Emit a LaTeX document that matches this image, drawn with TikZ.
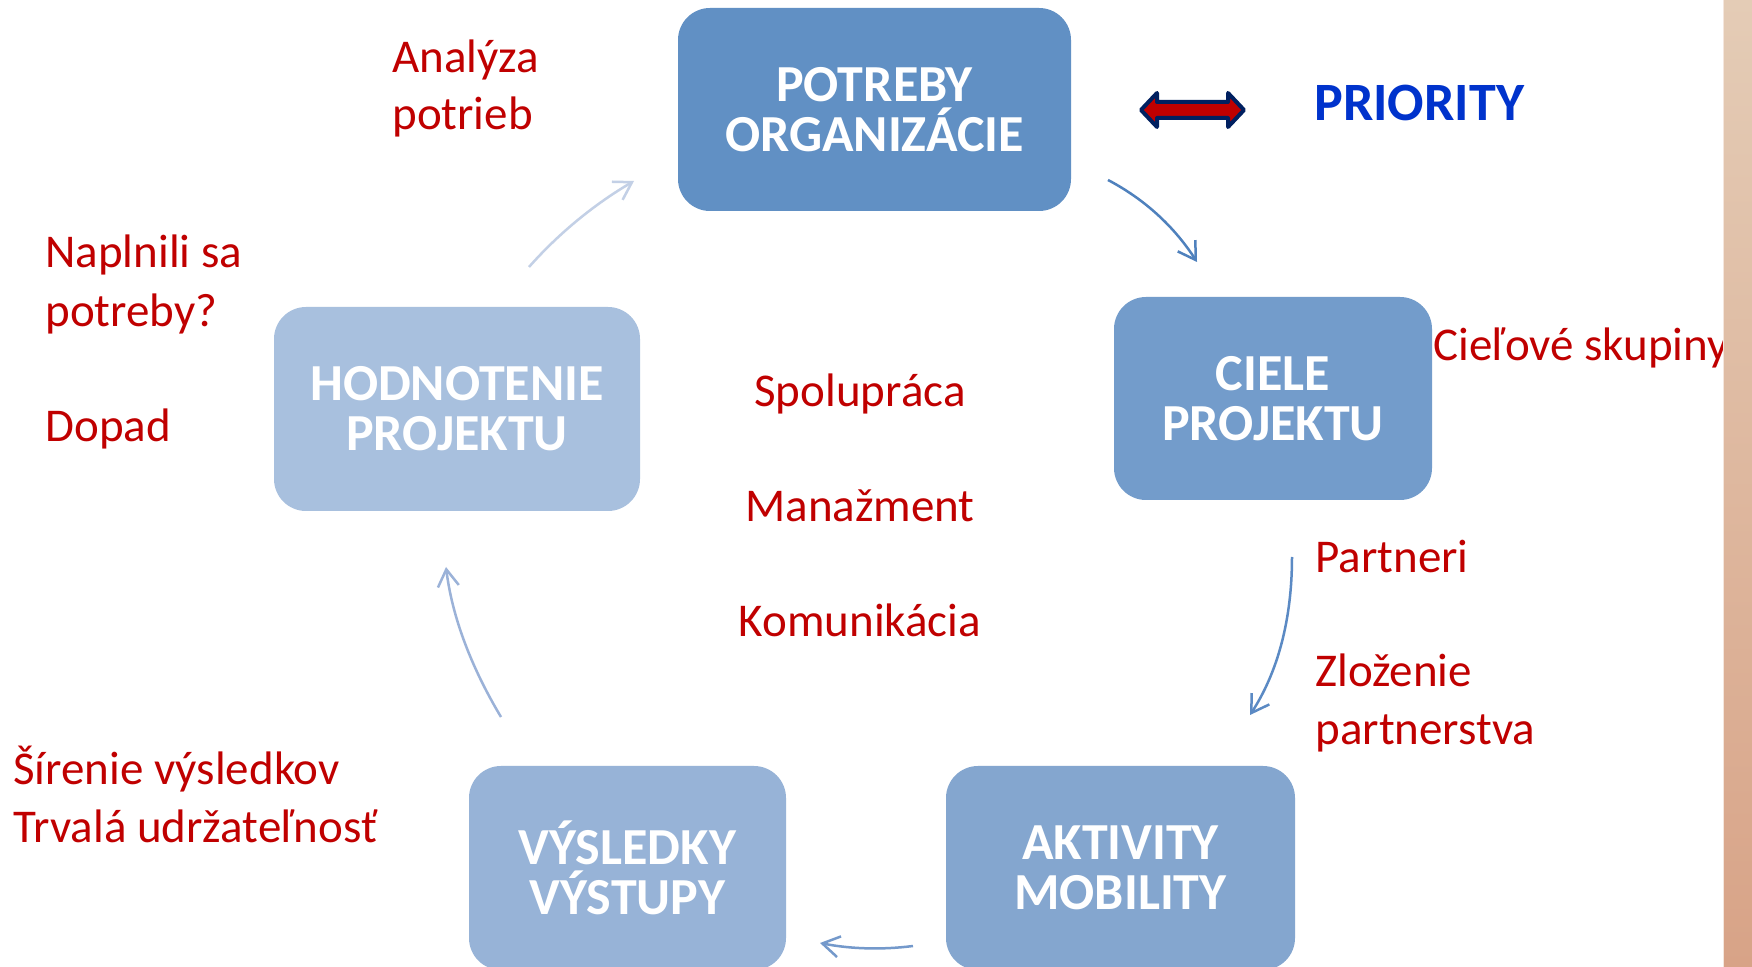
\documentclass[tikz,border=0pt]{standalone}
\usepackage{fontspec}
\setmainfont{Carlito}
\usetikzlibrary{arrows.meta}
\definecolor{boxA}{HTML}{6190C4}
\definecolor{boxB}{HTML}{739CCB}
\definecolor{boxC}{HTML}{84A6CF}
\definecolor{boxD}{HTML}{97B3D7}
\definecolor{boxE}{HTML}{A8C0DE}
\definecolor{arrA}{HTML}{4F81BD}
\definecolor{arrB}{HTML}{5B8AC4}
\definecolor{arrC}{HTML}{7499CB}
\definecolor{arrD}{HTML}{9BB2D8}
\definecolor{arrE}{HTML}{C3D0E6}
\definecolor{lblred}{HTML}{C00000}
\definecolor{prioblue}{HTML}{0033CC}
\definecolor{navy}{HTML}{002060}
\definecolor{stripTop}{HTML}{E4CCB6}
\definecolor{stripMid}{HTML}{DAAA8E}
\definecolor{stripBot}{HTML}{D8A387}
\tikzset{
  stagebox/.style={rounded corners=16pt, inner sep=0pt, text=white, align=center,
    font=\fontsize{26pt}{25pt}\selectfont\bfseries, minimum height=101.5pt},
  redlbl/.style={inner sep=0pt, text=lblred, font=\fontsize{23.5pt}{29pt}\selectfont},
  flow/.style={line width=1.25pt, -{Straight Barb[length=8.5pt, width=10.5pt, line width=1.25pt]}},
}
\begin{document}
\begin{tikzpicture}[x=0.5pt, y=-0.5pt]
\useasboundingbox (0,0) rectangle (1752,967);
\fill[white] (0,0) rectangle (1752,967);

% stage boxes
\node[stagebox, fill=boxA, minimum width=196.5pt] (pot) at (874.5,109.5) {POTREBY\\ORGANIZÁCIE};
\node[stagebox, fill=boxB, minimum width=159pt] (ciele) at (1273,398.5) {CIELE\\PROJEKTU};
\node[stagebox, fill=boxC, minimum width=174.5pt, minimum height=102pt] (akt) at (1120.5,868) {AKTIVITY\\MOBILITY};
\node[stagebox, fill=boxD, minimum width=158.5pt, minimum height=102pt] (vys) at (627.5,868) {VÝSLEDKY\\VÝSTUPY};
\node[stagebox, fill=boxE, minimum width=183pt, minimum height=102pt] (hod) at (457,409) {HODNOTENIE\\PROJEKTU};

% arrow end points
\coordinate (a1s) at (1108,180);  \coordinate (a1e) at (1197,262);
\coordinate (a2s) at (1292,557);  \coordinate (a2e) at (1250,715);
\coordinate (a3s) at (913,946);   \coordinate (a3e) at (820,943);
\coordinate (a4s) at (501,717);   \coordinate (a4e) at (446,567);
\coordinate (a5s) at (529,267);   \coordinate (a5e) at (634,181);

\draw[flow, draw=arrA] (a1s) .. controls (1144.7,199.3) and (1174.3,226.7) .. (a1e);
\draw[flow, draw=arrB] (a2s) .. controls (1292,619) and (1278,671.7) .. (a2e);
\draw[flow, draw=arrC] (a3s) .. controls (881.7,950) and (850.7,949) .. (a3e);
\draw[flow, draw=arrD] (a4s) .. controls (470.3,665.7) and (452,615.7) .. (a4e);
\draw[flow, draw=arrE] (a5s) .. controls (559.7,232.3) and (595.3,203.7) .. (a5e);

% double arrow and PRIORITY
\draw[line width=2pt, draw=navy, fill=lblred, line join=round]
  (1141,110) -- (1157,93) -- (1157,102) -- (1228,102) -- (1228,93) -- (1244,110)
  -- (1228,127) -- (1228,118) -- (1157,118) -- (1157,127) -- cycle;
\node[inner sep=0pt, anchor=base west, text=prioblue, font=\fontsize{27pt}{30pt}\selectfont\bfseries] (prio) at (1314,121) {PRIORITY};

% red labels
\node[redlbl, anchor=base west] (an1) at (392,73) {Analýza};
\node[redlbl, anchor=base west] (an2) at (392,130) {potrieb};
\node[redlbl, anchor=base west] (np1) at (45,268) {Naplnili sa};
\node[redlbl, anchor=base west] (np2) at (45,327) {potreby?};
\node[redlbl, anchor=base west] (dop) at (45,442) {Dopad};
\node[redlbl, anchor=base west] (sir) at (13,784) {Šírenie výsledkov};
\node[redlbl, anchor=base west] (trv) at (13,842) {Trvalá udržateľnosť};
\node[redlbl, anchor=base west] (cie) at (1433,361) {Cieľové skupiny};
\node[redlbl, anchor=base west] (par) at (1315,573) {Partneri};
\node[redlbl, anchor=base west] (zl1) at (1315,687) {Zloženie};
\node[redlbl, anchor=base west] (zl2) at (1315,745) {partnerstva};
\node[redlbl, anchor=base] (spo) at (860,407) {Spolupráca};
\node[redlbl, anchor=base] (man) at (860,522) {Manažment};
\node[redlbl, anchor=base] (kom) at (860,637) {Komunikácia};

% right decorative strip
\shade[top color=stripTop, middle color=stripMid, bottom color=stripBot] (1723,0) rectangle (1752,967);
\draw[line width=0.75pt, draw=white!70!stripMid] (1723.5,0) -- (1723.5,967);
\end{tikzpicture}
\end{document}
